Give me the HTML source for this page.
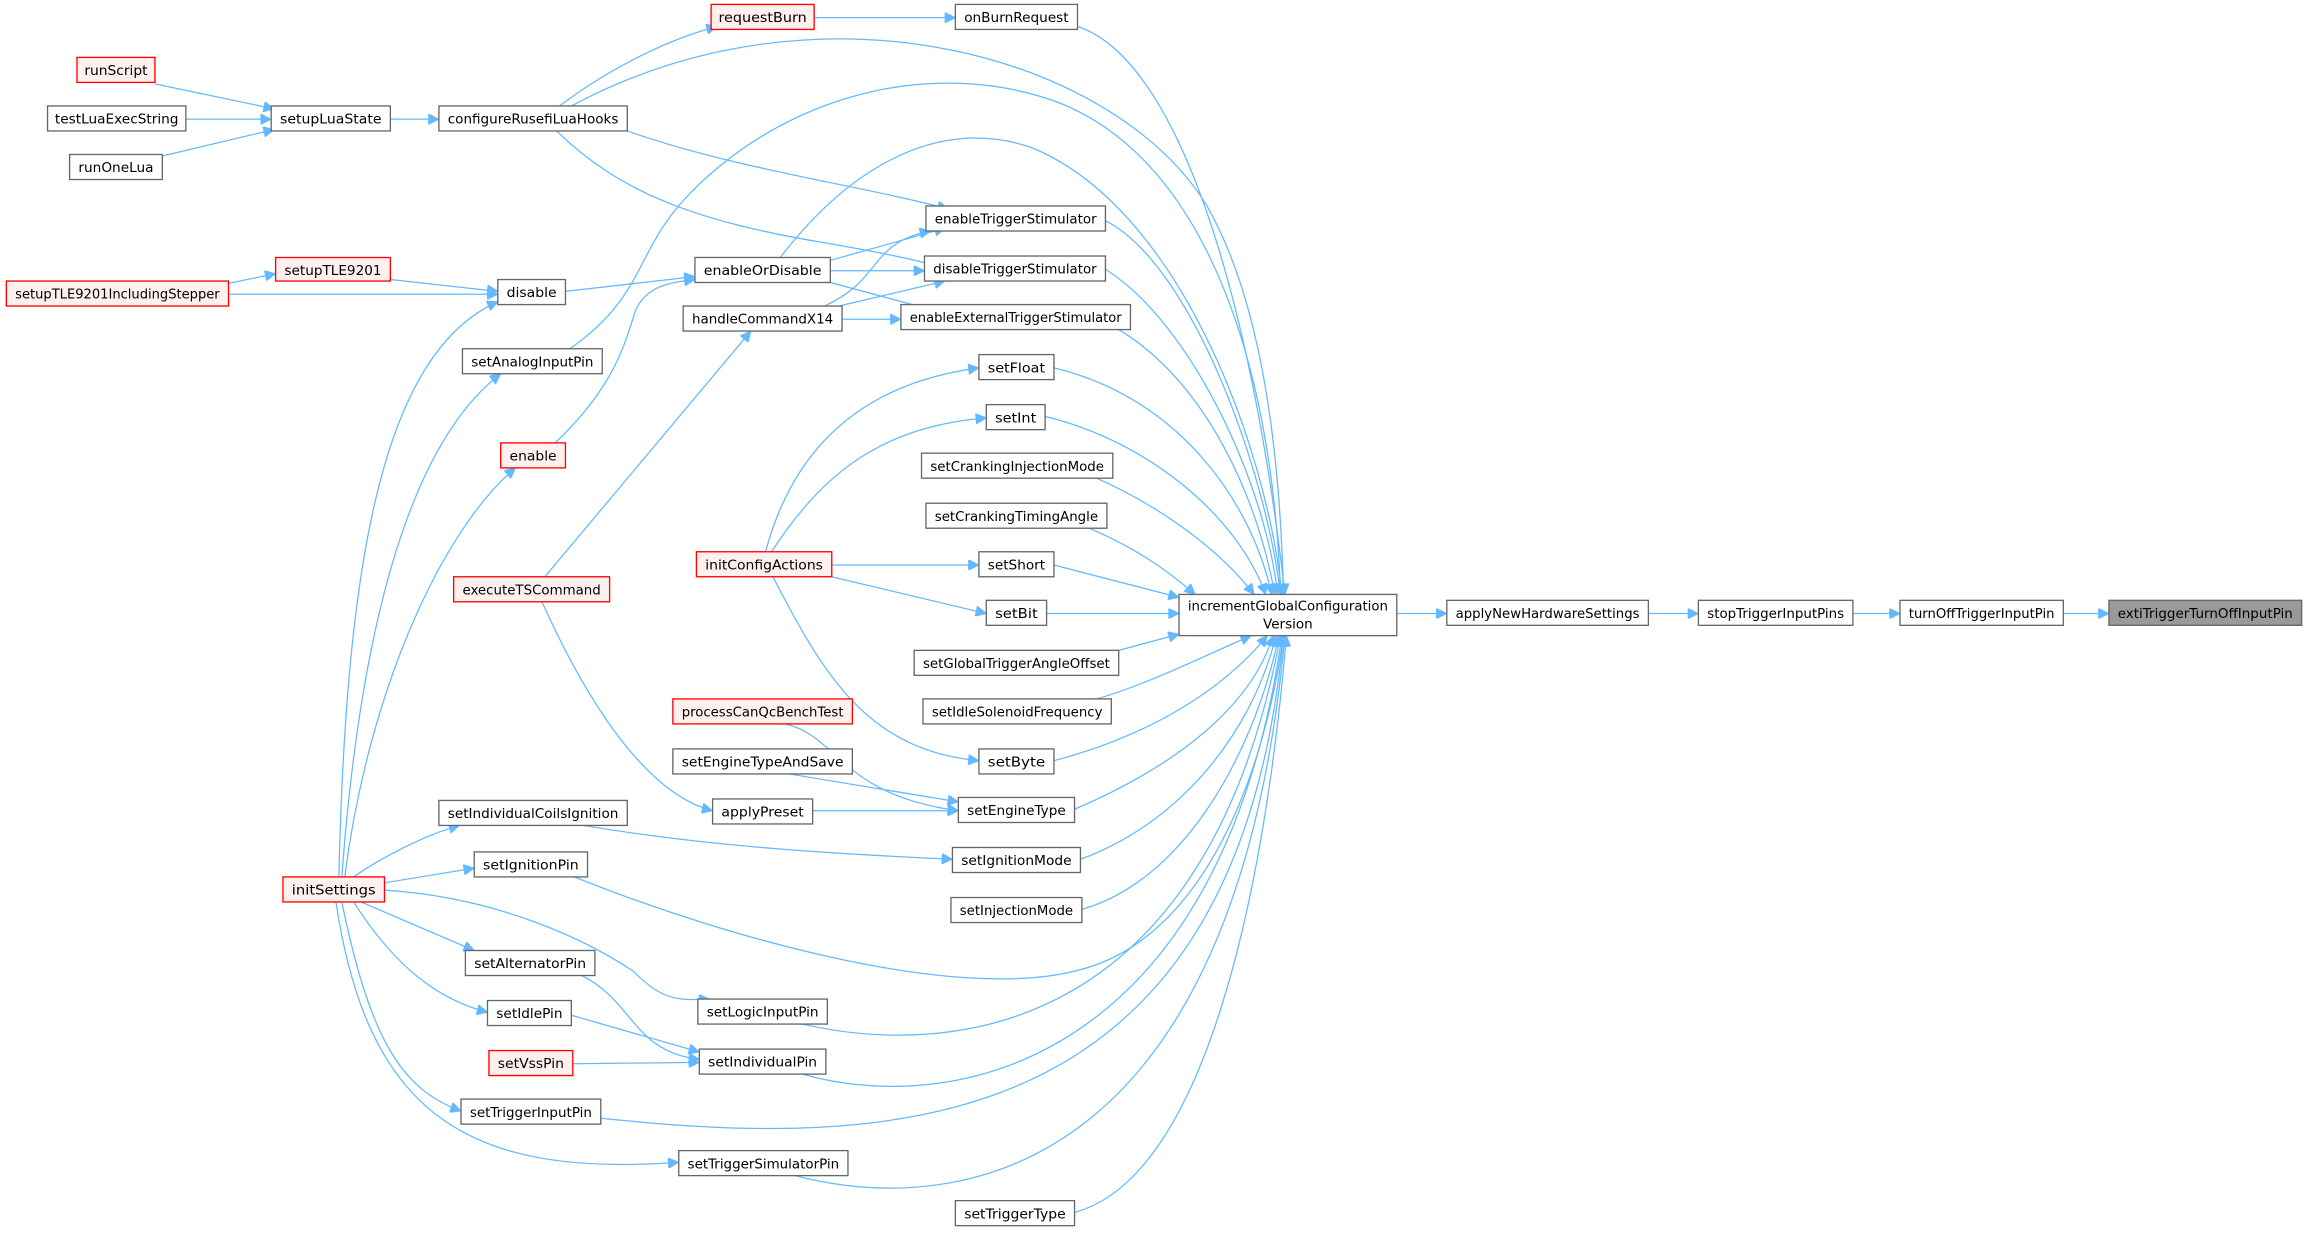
<!DOCTYPE html>
<html><head><meta charset="utf-8"><style>
html,body{margin:0;padding:0;background:#fff;}
svg{display:block;}
text{font-family:"DejaVu Sans","Liberation Sans",sans-serif;font-size:9.2px;fill:#000;}
.n{fill:#fff;stroke:#666;stroke-width:0.9;}
.r{fill:#fff0f0;stroke:#f00;stroke-width:0.9;}
.g{fill:#999;stroke:#666;stroke-width:0.9;}
path{fill:none;stroke:#63b8ff;stroke-width:0.85;}
</style></head><body>
<svg width="2308" height="1233" viewBox="0 0 1568 838" xmlns="http://www.w3.org/2000/svg">
<defs><marker id="a" viewBox="0 0 10 10" refX="10" refY="5" markerWidth="8" markerHeight="7" markerUnits="userSpaceOnUse" orient="auto"><path d="M0,0 L10,5 L0,10 z" style="fill:#63b8ff;stroke:#63b8ff"/></marker></defs>
<g marker-end="url(#a)">
<path d="M553,12 L649,12"/>
<path d="M380,72 C420,42 460,25 487,18"/>
<path d="M388,72 C560,-20 760,40 820,140 C860,210 870,320 872,404"/>
<path d="M732,18 C800,40 850,200 873,404"/>
<path d="M105,57 L186,74"/>
<path d="M126,81 L184,81"/>
<path d="M110,106 L186,88"/>
<path d="M265,81 L298,81"/>
<path d="M426,89 C500,115 580,125 644,142"/>
<path d="M378,89 C420,130 470,150 560,165 C600,172 620,176 645,183"/>
<path d="M153,193 L187,186"/>
<path d="M155,200 L338,200"/>
<path d="M265,190 L338,198"/>
<path d="M384,198 L472,188"/>
<path d="M564,177 L642,155"/>
<path d="M564,184 L628,184"/>
<path d="M564,192 L642,213"/>
<path d="M560,208 C600,190 590,165 632,157"/>
<path d="M570,208 L642,191"/>
<path d="M572,217 L612,217"/>
<path d="M530,175 C580,110 640,80 700,100 C800,140 860,300 871,404"/>
<path d="M387,237 C440,200 430,170 470,130 C540,60 640,40 720,70 C820,110 865,250 870,404"/>
<path d="M377,301 C420,260 425,230 432,210 C440,194 455,192 472,190"/>
<path d="M370,392 L510,225"/>
<path d="M368,409 C400,480 440,540 484,551"/>
<path d="M230,596 C235,380 260,240 338,205"/>
<path d="M232,596 C245,420 280,300 340,254"/>
<path d="M234,596 C250,470 300,360 350,318"/>
<path d="M240,596 C260,582 290,567 312,561"/>
<path d="M261,600 L322,590"/>
<path d="M261,605 C340,610 400,640 430,660 C450,680 460,680 482,679"/>
<path d="M245,613 L322,646"/>
<path d="M240,613 C270,660 300,680 331,688"/>
<path d="M232,613 C250,700 270,740 313,755"/>
<path d="M228,613 C250,760 320,800 461,790"/>
<path d="M520,375 C540,300 590,260 665,250"/>
<path d="M524,375 C560,320 600,290 670,284"/>
<path d="M565,384 L665,384"/>
<path d="M565,392 L670,417"/>
<path d="M525,392 C560,460 590,510 665,517"/>
<path d="M533,492 C570,500 570,540 651,551"/>
<path d="M536,526 L651,545"/>
<path d="M552,551 L651,551"/>
<path d="M396,561 C480,575 560,580 647,584"/>
<path d="M395,663 C430,680 430,715 475,720"/>
<path d="M388,690 L475,715"/>
<path d="M389,723 L475,722"/>
<path d="M390,596 C500,640 650,680 730,660 C820,640 860,520 872,432"/>
<path d="M545,696 C650,720 820,700 870,432"/>
<path d="M545,730 C650,760 830,720 871,432"/>
<path d="M408,760 C600,780 840,780 872,432"/>
<path d="M540,799 C660,830 840,790 873,432"/>
<path d="M730,824 C820,800 860,600 874,432"/>
<path d="M735,618 C800,600 850,520 869,432"/>
<path d="M734,584 C800,560 850,500 867,432"/>
<path d="M730,550 C800,520 850,480 865,432"/>
<path d="M716,517 C780,500 830,470 861,432"/>
<path d="M745,475 C780,465 820,445 850,432"/>
<path d="M760,442 L801,431"/>
<path d="M711,417 L801,417"/>
<path d="M716,384 L801,406"/>
<path d="M740,359 C770,372 790,385 812,404"/>
<path d="M745,325 C790,345 830,375 852,404"/>
<path d="M710,283 C780,300 840,350 860,404"/>
<path d="M716,250 C800,270 850,340 864,404"/>
<path d="M760,224 C820,260 855,340 866,404"/>
<path d="M751,183 C810,220 860,330 868,404"/>
<path d="M751,150 C810,180 860,320 870,404"/>
<path d="M949,417 L983,417"/>
<path d="M1120,417 L1154,417"/>
<path d="M1259,417 L1291,417"/>
<path d="M1402,417 L1433,417"/>
</g>
<g>
<rect class="r" x="483" y="3" width="70" height="17"/><text x="518" y="15" text-anchor="middle" textLength="60" lengthAdjust="spacingAndGlyphs">requestBurn</text>
<rect class="n" x="649" y="3" width="83" height="17"/><text x="690.5" y="15" text-anchor="middle" textLength="71" lengthAdjust="spacingAndGlyphs">onBurnRequest</text>
<rect class="r" x="52" y="39" width="53" height="17"/><text x="78.5" y="51" text-anchor="middle" textLength="43" lengthAdjust="spacingAndGlyphs">runScript</text>
<rect class="n" x="32" y="72" width="94" height="17"/><text x="79" y="84" text-anchor="middle" textLength="84" lengthAdjust="spacingAndGlyphs">testLuaExecString</text>
<rect class="n" x="184" y="72" width="81" height="17"/><text x="224.5" y="84" text-anchor="middle" textLength="69" lengthAdjust="spacingAndGlyphs">setupLuaState</text>
<rect class="n" x="47" y="105" width="63" height="17"/><text x="78.5" y="117" text-anchor="middle" textLength="51" lengthAdjust="spacingAndGlyphs">runOneLua</text>
<rect class="n" x="298" y="72" width="128" height="17"/><text x="362" y="84" text-anchor="middle" textLength="116" lengthAdjust="spacingAndGlyphs">configureRusefiLuaHooks</text>
<rect class="n" x="629" y="140" width="122" height="17"/><text x="690" y="152" text-anchor="middle" textLength="110" lengthAdjust="spacingAndGlyphs">enableTriggerStimulator</text>
<rect class="r" x="187" y="175" width="78" height="16"/><text x="226" y="187" text-anchor="middle" textLength="66" lengthAdjust="spacingAndGlyphs">setupTLE9201</text>
<rect class="n" x="338" y="190" width="46" height="17"/><text x="361" y="202" text-anchor="middle" textLength="34" lengthAdjust="spacingAndGlyphs">disable</text>
<rect class="n" x="472" y="175" width="92" height="17"/><text x="518" y="187" text-anchor="middle" textLength="80" lengthAdjust="spacingAndGlyphs">enableOrDisable</text>
<rect class="n" x="628" y="174" width="123" height="17"/><text x="689.5" y="186" text-anchor="middle" textLength="111" lengthAdjust="spacingAndGlyphs">disableTriggerStimulator</text>
<rect class="r" x="4" y="191" width="151" height="17"/><text x="79.5" y="203" text-anchor="middle" textLength="139" lengthAdjust="spacingAndGlyphs">setupTLE9201IncludingStepper</text>
<rect class="n" x="464" y="208" width="108" height="17"/><text x="518" y="220" text-anchor="middle" textLength="96" lengthAdjust="spacingAndGlyphs">handleCommandX14</text>
<rect class="n" x="612" y="207" width="156" height="17"/><text x="690" y="219" text-anchor="middle" textLength="144" lengthAdjust="spacingAndGlyphs">enableExternalTriggerStimulator</text>
<rect class="n" x="314" y="237" width="95" height="17"/><text x="361.5" y="249" text-anchor="middle" textLength="83" lengthAdjust="spacingAndGlyphs">setAnalogInputPin</text>
<rect class="n" x="665" y="241" width="51" height="17"/><text x="690.5" y="253" text-anchor="middle" textLength="39" lengthAdjust="spacingAndGlyphs">setFloat</text>
<rect class="n" x="670" y="275" width="40" height="17"/><text x="690" y="287" text-anchor="middle" textLength="28" lengthAdjust="spacingAndGlyphs">setInt</text>
<rect class="r" x="340" y="301" width="44" height="17"/><text x="362" y="313" text-anchor="middle" textLength="32" lengthAdjust="spacingAndGlyphs">enable</text>
<rect class="n" x="626" y="308" width="130" height="17"/><text x="691" y="320" text-anchor="middle" textLength="118" lengthAdjust="spacingAndGlyphs">setCrankingInjectionMode</text>
<rect class="n" x="629" y="342" width="123" height="17"/><text x="690.5" y="354" text-anchor="middle" textLength="111" lengthAdjust="spacingAndGlyphs">setCrankingTimingAngle</text>
<rect class="r" x="473" y="375" width="92" height="17"/><text x="519" y="387" text-anchor="middle" textLength="80" lengthAdjust="spacingAndGlyphs">initConfigActions</text>
<rect class="n" x="665" y="375" width="51" height="17"/><text x="690.5" y="387" text-anchor="middle" textLength="39" lengthAdjust="spacingAndGlyphs">setShort</text>
<rect class="r" x="308" y="392" width="106" height="17"/><text x="361" y="404" text-anchor="middle" textLength="94" lengthAdjust="spacingAndGlyphs">executeTSCommand</text>
<rect class="n" x="670" y="408" width="41" height="17"/><text x="690.5" y="420" text-anchor="middle" textLength="29" lengthAdjust="spacingAndGlyphs">setBit</text>
<rect class="n" x="801" y="404" width="148" height="28"/><text x="875" y="415" text-anchor="middle" textLength="136" lengthAdjust="spacingAndGlyphs">incrementGlobalConfiguration</text><text x="875" y="427" text-anchor="middle">Version</text>
<rect class="n" x="983" y="408" width="137" height="17"/><text x="1051.5" y="420" text-anchor="middle" textLength="125" lengthAdjust="spacingAndGlyphs">applyNewHardwareSettings</text>
<rect class="n" x="1154" y="408" width="105" height="17"/><text x="1206.5" y="420" text-anchor="middle" textLength="93" lengthAdjust="spacingAndGlyphs">stopTriggerInputPins</text>
<rect class="n" x="1291" y="408" width="111" height="17"/><text x="1346.5" y="420" text-anchor="middle" textLength="99" lengthAdjust="spacingAndGlyphs">turnOffTriggerInputPin</text>
<rect class="g" x="1433" y="408" width="131" height="17"/><text x="1498.5" y="420" text-anchor="middle" textLength="119" lengthAdjust="spacingAndGlyphs">extiTriggerTurnOffInputPin</text>
<rect class="n" x="621" y="442" width="139" height="17"/><text x="690.5" y="454" text-anchor="middle" textLength="127" lengthAdjust="spacingAndGlyphs">setGlobalTriggerAngleOffset</text>
<rect class="n" x="627" y="475" width="128" height="17"/><text x="691" y="487" text-anchor="middle" textLength="116" lengthAdjust="spacingAndGlyphs">setIdleSolenoidFrequency</text>
<rect class="r" x="457" y="475" width="122" height="17"/><text x="518" y="487" text-anchor="middle" textLength="110" lengthAdjust="spacingAndGlyphs">processCanQcBenchTest</text>
<rect class="n" x="457" y="509" width="122" height="17"/><text x="518" y="521" text-anchor="middle" textLength="110" lengthAdjust="spacingAndGlyphs">setEngineTypeAndSave</text>
<rect class="n" x="665" y="509" width="51" height="17"/><text x="690.5" y="521" text-anchor="middle" textLength="39" lengthAdjust="spacingAndGlyphs">setByte</text>
<rect class="n" x="298" y="544" width="128" height="17"/><text x="362" y="556" text-anchor="middle" textLength="116" lengthAdjust="spacingAndGlyphs">setIndividualCoilsIgnition</text>
<rect class="n" x="484" y="543" width="68" height="17"/><text x="518" y="555" text-anchor="middle" textLength="56" lengthAdjust="spacingAndGlyphs">applyPreset</text>
<rect class="n" x="651" y="542" width="79" height="17"/><text x="690.5" y="554" text-anchor="middle" textLength="67" lengthAdjust="spacingAndGlyphs">setEngineType</text>
<rect class="n" x="647" y="576" width="87" height="17"/><text x="690.5" y="588" text-anchor="middle" textLength="75" lengthAdjust="spacingAndGlyphs">setIgnitionMode</text>
<rect class="r" x="192" y="596" width="69" height="17"/><text x="226.5" y="608" text-anchor="middle" textLength="57" lengthAdjust="spacingAndGlyphs">initSettings</text>
<rect class="n" x="322" y="579" width="77" height="17"/><text x="360.5" y="591" text-anchor="middle" textLength="65" lengthAdjust="spacingAndGlyphs">setIgnitionPin</text>
<rect class="n" x="646" y="610" width="89" height="17"/><text x="690.5" y="622" text-anchor="middle" textLength="77" lengthAdjust="spacingAndGlyphs">setInjectionMode</text>
<rect class="n" x="316" y="646" width="88" height="17"/><text x="360" y="658" text-anchor="middle" textLength="76" lengthAdjust="spacingAndGlyphs">setAlternatorPin</text>
<rect class="n" x="474" y="679" width="88" height="17"/><text x="518" y="691" text-anchor="middle" textLength="76" lengthAdjust="spacingAndGlyphs">setLogicInputPin</text>
<rect class="n" x="331" y="680" width="57" height="17"/><text x="359.5" y="692" text-anchor="middle" textLength="45" lengthAdjust="spacingAndGlyphs">setIdlePin</text>
<rect class="r" x="332" y="714" width="57" height="17"/><text x="360.5" y="726" text-anchor="middle" textLength="45" lengthAdjust="spacingAndGlyphs">setVssPin</text>
<rect class="n" x="475" y="713" width="86" height="17"/><text x="518" y="725" text-anchor="middle" textLength="74" lengthAdjust="spacingAndGlyphs">setIndividualPin</text>
<rect class="n" x="313" y="747" width="95" height="17"/><text x="360.5" y="759" text-anchor="middle" textLength="83" lengthAdjust="spacingAndGlyphs">setTriggerInputPin</text>
<rect class="n" x="461" y="782" width="115" height="17"/><text x="518.5" y="794" text-anchor="middle" textLength="103" lengthAdjust="spacingAndGlyphs">setTriggerSimulatorPin</text>
<rect class="n" x="649" y="816" width="81" height="17"/><text x="689.5" y="828" text-anchor="middle" textLength="69" lengthAdjust="spacingAndGlyphs">setTriggerType</text>
</g>
</svg>
</body></html>
